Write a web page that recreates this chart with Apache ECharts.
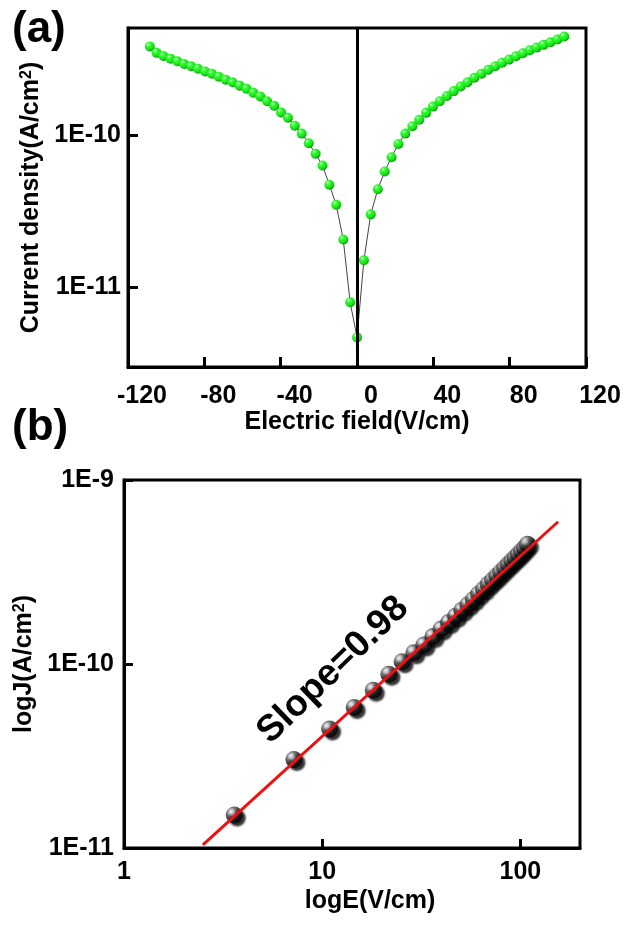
<!DOCTYPE html>
<html>
<head>
<meta charset="utf-8">
<script src="https://cdn.jsdelivr.net/npm/echarts@6/dist/echarts.min.js"></script>
<style>
  html, body { margin: 0; padding: 0; background: #fff; }
  #chart { width: 624px; height: 927px; }
</style>
</head>
<body>
<div id="chart"></div>
<script>
// electric field sweep (V/cm) and measured current density (A/cm2)
const field = [-108.6, -105.0, -101.4, -97.7, -94.1, -90.5, -86.9, -83.3, -79.6, -76.0,
  -72.4, -68.8, -65.2, -61.5, -57.9, -54.3, -50.7, -47.1, -43.4, -39.8,
  -36.2, -32.6, -29.0, -25.3, -21.7, -18.1, -14.5, -10.9, -7.2, -3.6,
  0, 3.6, 7.2, 10.9, 14.5, 18.1, 21.7, 25.3, 29.0, 32.6,
  36.2, 39.8, 43.4, 47.1, 50.7, 54.3, 57.9, 61.5, 65.2, 68.8,
  72.4, 76.0, 79.6, 83.3, 86.9, 90.5, 94.1, 97.7, 101.4, 105.0, 108.6];
const current = [3.86e-10, 3.50e-10, 3.34e-10, 3.20e-10, 3.08e-10, 2.96e-10, 2.86e-10, 2.75e-10, 2.64e-10, 2.55e-10,
  2.44e-10, 2.33e-10, 2.24e-10, 2.13e-10, 2.03e-10, 1.91e-10, 1.81e-10, 1.68e-10, 1.57e-10, 1.42e-10,
  1.31e-10, 1.16e-10, 1.03e-10, 8.9e-11, 7.6e-11, 6.35e-11, 4.75e-11, 3.5e-11, 2.07e-11, 8.0e-12,
  4.7e-12, 1.51e-11, 3.03e-11, 4.43e-11, 5.8e-11, 7.2e-11, 8.8e-11, 1.03e-10, 1.15e-10, 1.27e-10,
  1.41e-10, 1.55e-10, 1.68e-10, 1.82e-10, 1.96e-10, 2.10e-10, 2.24e-10, 2.40e-10, 2.55e-10, 2.71e-10,
  2.86e-10, 3.01e-10, 3.16e-10, 3.32e-10, 3.48e-10, 3.64e-10, 3.79e-10, 3.95e-10, 4.11e-10, 4.28e-10, 4.48e-10];

// linear fit on the log-log plot (slope 0.98)
const fitField = [2.5, 155];
const fitCurrent = [1.04e-11, 5.93e-10];

const topXTicks = [-120, -80, -40, 0, 40, 80, 120];
const topYTicks = [1e-11, 1e-10];
const botXTicks = [1, 10, 100];
const botYTicks = [1e-11, 1e-10, 1e-9];

const font = 'Liberation Sans';
const txt = { color: '#000', fontFamily: font, fontWeight: 'bold', fontSize: 25 };

const topData = field.map((e, i) => [e, current[i]]);
const botData = [];
field.forEach((e, i) => { if (e > 0) botData.push([e, current[i]]); });
const fitData = fitField.map((e, i) => [e, fitCurrent[i]]);

const greenBall = new echarts.graphic.RadialGradient(0.35, 0.3, 0.7, [
  { offset: 0, color: '#f4fff4' },
  { offset: 0.25, color: '#3cff3c' },
  { offset: 0.8, color: '#10dd10' },
  { offset: 1, color: '#089608' }
]);
const blackBall = new echarts.graphic.RadialGradient(0.35, 0.32, 0.7, [
  { offset: 0, color: '#ffffff' },
  { offset: 0.15, color: '#d8d8e0' },
  { offset: 0.4, color: '#505050' },
  { offset: 0.7, color: '#111111' },
  { offset: 1, color: '#000000' }
]);

const expLabel = v => '1E' + Math.round(Math.log10(v));
const axisLine = { show: true, onZero: false, lineStyle: { color: '#000', width: 3 } };
const nameRich = { sup: { fontFamily: font, fontWeight: 'bold', fontSize: 16, verticalAlign: 'top', color: '#000' } };

const chart = echarts.init(document.getElementById('chart'), null, { renderer: 'canvas' });

const option = {
  backgroundColor: '#fff',
  animation: false,
  grid: [
    { left: 128, top: 28, width: 458, height: 339, show: true, borderColor: '#000', borderWidth: 3 },
    { left: 124, top: 480, width: 456, height: 368, show: true, borderColor: '#000', borderWidth: 3 }
  ],
  xAxis: [
    {
      gridIndex: 0, type: 'value', min: -120, max: 120, interval: 40,
      axisLine: axisLine,
      axisTick: { inside: true, length: 10, lineStyle: { color: '#000', width: 3 } },
      axisLabel: Object.assign({}, txt, { margin: 17, padding: [0, 0, 0, 28], customValues: topXTicks }),
      splitLine: { show: false },
      name: 'Electric field(V/cm)', nameLocation: 'middle', nameGap: 43,
      nameTextStyle: Object.assign({}, txt)
    },
    {
      gridIndex: 1, type: 'log', logBase: 10, min: 1, max: 200,
      axisLine: axisLine,
      axisTick: { inside: true, length: 9, customValues: botXTicks, lineStyle: { color: '#000', width: 3 } },
      minorTick: { show: false },
      axisLabel: Object.assign({}, txt, { margin: 12, customValues: botXTicks, formatter: v => String(Math.round(v)) }),
      splitLine: { show: false },
      name: 'logE(V/cm)', nameLocation: 'middle', nameGap: 41,
      nameTextStyle: Object.assign({}, txt, { padding: [0, 0, 0, 36] })
    }
  ],
  yAxis: [
    {
      gridIndex: 0, type: 'log', logBase: 10, min: 3e-12, max: 5.1e-10,
      axisLine: axisLine,
      axisTick: { inside: true, length: 10, customValues: topYTicks, lineStyle: { color: '#000', width: 3 } },
      minorTick: { show: false },
      axisLabel: Object.assign({}, txt, { margin: 7, customValues: topYTicks, formatter: expLabel }),
      splitLine: { show: false },
      name: 'Current density(A/cm{sup|2})', nameLocation: 'middle', nameGap: 75,
      nameTextStyle: Object.assign({}, txt, { rich: nameRich })
    },
    {
      gridIndex: 1, type: 'log', logBase: 10, min: 1e-11, max: 1e-9,
      axisLine: axisLine,
      axisTick: { inside: true, length: 9, customValues: botYTicks, lineStyle: { color: '#000', width: 3 } },
      minorTick: { show: false },
      axisLabel: Object.assign({}, txt, { margin: 10, customValues: botYTicks, formatter: expLabel }),
      splitLine: { show: false },
      name: 'logJ(A/cm{sup|2})', nameLocation: 'middle', nameGap: 84,
      nameTextStyle: Object.assign({}, txt, { rich: nameRich })
    }
  ],
  series: [
    {
      type: 'line', xAxisIndex: 0, yAxisIndex: 0,
      data: topData,
      symbol: 'circle', symbolSize: 10, showSymbol: true,
      lineStyle: { color: '#444', width: 1 },
      itemStyle: { color: greenBall },
      markLine: {
        silent: true, symbol: ['none', 'none'], label: { show: false },
        lineStyle: { color: '#000', width: 3, type: 'solid' },
        data: [{ xAxis: 0 }]
      },
      z: 3
    },
    {
      type: 'scatter', xAxisIndex: 1, yAxisIndex: 1,
      data: botData,
      symbol: 'circle', symbolSize: 17,
      itemStyle: {
        color: blackBall,
        shadowColor: '#000', shadowBlur: 2, shadowOffsetX: 3, shadowOffsetY: 3
      },
      z: 3
    },
    {
      type: 'line', xAxisIndex: 1, yAxisIndex: 1,
      data: fitData,
      showSymbol: false, symbol: 'none',
      lineStyle: { color: '#ee1111', width: 3 },
      z: 4
    }
  ],
  graphic: [
    { type: 'text', left: 12, top: 8, style: { text: '(a)', fill: '#000', font: 'bold 44px "Liberation Sans"' } },
    { type: 'text', left: 12, top: 406, style: { text: '(b)', fill: '#000', font: 'bold 44px "Liberation Sans"' } },
    {
      type: 'text', x: 333, y: 670, rotation: 44 * Math.PI / 180,
      style: { text: 'Slope=0.98', fill: '#000', font: 'bold 37px "Liberation Sans"', align: 'center', verticalAlign: 'middle' },
      z: 10
    }
  ]
};

chart.setOption(option);
window.addEventListener('resize', chart.resize);
</script>
</body>
</html>
